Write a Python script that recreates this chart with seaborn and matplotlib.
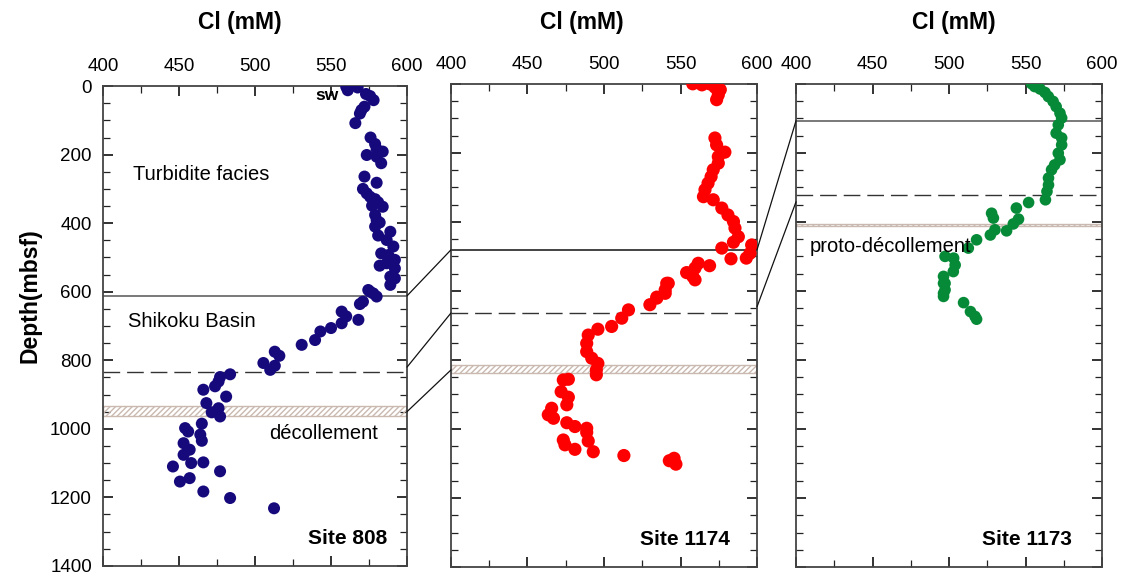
import seaborn as sns
import matplotlib.pyplot as plt
import pandas as pd
from matplotlib.patches import ConnectionPatch
from matplotlib.ticker import MultipleLocator

# Site 808 (Cl mM, depth mbsf)
cl_808 = [560, 561, 567.5, 573, 575.7, 578, 572, 570, 569, 566, 576, 579, 580, 584, 573.5,
          580, 583, 572, 580, 571, 573.5, 575.7, 579, 581, 577, 584, 579, 580, 582, 579,
          589, 581, 586.6, 591, 583, 587.7, 592, 586.6, 582, 592, 589, 592, 589, 574.5,
          577.8, 575.7, 580, 569, 571, 557, 560, 557, 568, 550, 543, 539.5, 530.7, 513,
          516, 505.5, 513, 510, 483.6, 477, 476, 473.7, 466, 481, 468, 476, 471.5, 477,
          465, 454, 456, 464, 465, 453, 457, 453, 458, 466, 446, 477, 457, 450.6, 466,
          483.6, 512.5]
depth_808 = [2, 12, 4, 23, 29, 41, 60, 70, 80, 108, 150, 169, 184, 191, 201, 206, 225, 264,
             282, 300, 313, 323, 330, 339, 349, 352, 376, 391, 398, 410, 425, 436, 449, 468,
             488, 493, 507, 517, 524, 532, 556, 561, 580, 595, 605, 600, 614, 636, 629, 658,
             672, 692, 682, 706, 716, 741, 755, 775, 787, 808, 816, 828, 841, 849, 862, 876,
             886, 906, 925, 940, 952, 964, 985, 998, 1008, 1017, 1035, 1042, 1061, 1076,
             1100, 1098, 1110, 1124, 1144, 1154, 1183, 1202, 1232]

# Site 1174
cl_1174 = [558, 564, 569, 572.5, 576, 574.7, 573.6, 572.5, 573.6, 579, 574.7, 574.7, 571.4,
           570, 568, 566, 565, 571.4, 577, 581, 584.6, 585.6, 587.8, 584.6, 596.5, 577,
           595.4, 593, 583, 569, 561.6, 554, 558, 559.5, 542, 540, 534.5, 559.5, 541, 540,
           534.5, 530, 516, 511.6, 505, 496, 489.7, 488.7, 488.7, 492, 496, 495, 495,
           476.7, 473.4, 472, 476.7, 475.7, 465.8, 463.6, 467, 475.7, 481, 488.7, 488.7,
           473.4, 474.5, 481, 489.7, 493, 513, 542.7, 545.8, 547]
depth_1174 = [0, 3, 0, 10, 17, 32, 46, 157, 177, 198, 211, 230, 249, 269, 288, 307, 327, 336,
              360, 380, 399, 418, 443, 459, 467, 476, 491, 505, 507, 527, 520, 547, 558, 534,
              578, 597, 618, 568, 578, 607, 621, 640, 655, 679, 703, 711, 728, 752, 776, 795,
              810, 829, 843, 856, 858, 892, 908, 930, 940, 959, 969, 982, 993, 998, 1010,
              1032, 1046, 1059, 1035, 1066, 1077, 1092, 1085, 1102]

# Site 1173
cl_1173 = [554, 556, 559.5, 562.7, 564.9, 568, 570, 572.5, 573.6, 571.4, 570, 573.6, 573.6,
           571.4, 572.5, 569, 567, 565, 565, 564, 563, 552, 544, 527.8, 529, 545.4, 542,
           537.6, 530, 527, 518, 512.6, 497.4, 503, 504, 502.8, 496.4, 497.4, 496.4, 496.4,
           497.4, 496.4, 509.5, 514, 517, 518]
depth_1173 = [0, 8, 15, 25, 37, 51, 66, 85, 99, 119, 143, 157, 177, 201, 220, 235, 249, 273,
              293, 312, 336, 344, 360, 375, 389, 392, 406, 426, 423, 438, 452, 476, 500, 505,
              525, 544, 558, 578, 607, 578, 597, 616, 634, 660, 674, 682]

sites = ['Site 808', 'Site 1174', 'Site 1173']
colors = ['#16097c', '#ff0000', '#078a38']
solid_depth = [612, 481, 107]
dashed_depth = [834, 664, 322]
band = [(933, 962), (815, 838), (406, 412)]

sns.set_style('ticks')
plt.rcParams['font.family'] = ['Liberation Sans', 'DejaVu Sans']
plt.rcParams['text.color'] = 'black'
plt.rcParams['xtick.color'] = 'black'
plt.rcParams['ytick.color'] = 'black'
plt.rcParams['hatch.color'] = '#bfaea4'
plt.rcParams['hatch.linewidth'] = 1.0

fig = plt.figure(figsize=(11.21, 5.78), dpi=100)
ax1 = fig.add_axes([0.0919, 0.021, 0.2712, 0.830])
ax2 = fig.add_axes([0.4023, 0.019, 0.2730, 0.836])
ax3 = fig.add_axes([0.7101, 0.019, 0.2730, 0.836])
axes = [ax1, ax2, ax3]

data = [(cl_808, depth_808), (cl_1174, depth_1174), (cl_1173, depth_1173)]
sizes = [75, 90, 70]

for i, ax in enumerate(axes):
    df = pd.DataFrame({'cl': data[i][0], 'depth': data[i][1]})
    sns.scatterplot(data=df, x='cl', y='depth', color=colors[i], s=sizes[i],
                    edgecolor='none', ax=ax, zorder=3)
    ax.set_xlim(400, 600)
    ax.set_ylim(1400, 0)
    ax.set_xlabel('')
    ax.set_ylabel('')
    ax.xaxis.set_major_locator(MultipleLocator(50))
    ax.xaxis.set_minor_locator(MultipleLocator(25))
    ax.yaxis.set_major_locator(MultipleLocator(200))
    ax.yaxis.set_minor_locator(MultipleLocator(50))
    ax.tick_params(which='both', direction='in', top=True, bottom=True, left=True, right=True,
                   labeltop=True, labelbottom=False, labelleft=(i == 0), labelright=False,
                   color='#222222', labelcolor='black', labelsize=13.5, pad=8)
    ax.tick_params(which='major', length=7, width=1.3)
    ax.tick_params(which='minor', length=5, width=0.9)
    for sp in ax.spines.values():
        sp.set_color('#444444')
        sp.set_linewidth(1.3)

    ax.axhline(solid_depth[i], color='#555555' if i != 1 else '#111111', lw=1.1, zorder=2)
    ax.axhline(dashed_depth[i], color='#333333', lw=1.0, dashes=(12, 5), zorder=2)
    ax.axhspan(band[i][0], band[i][1], facecolor='none', edgecolor='#c9b9b0',
               hatch='//////', lw=1.0, zorder=1)
    ax.text(587 if i == 0 else 582 if i == 1 else 580, 1320, sites[i], ha='right',
            va='center', fontsize=15, fontweight='bold', color='black')
    fig.text([240, 582, 954][i] / 1121, 1 - 22 / 578, 'Cl (mM)', ha='center', va='center',
             fontsize=16.5, fontweight='bold', color='black')

ax1.text(540, 27, 'sw', ha='left', va='center', fontsize=12.5, fontweight='bold')
ax1.text(419.7, 257, 'Turbidite facies', ha='left', va='center', fontsize=14.5)
ax1.text(416.4, 687, 'Shikoku Basin', ha='left', va='center', fontsize=14.5)
ax1.text(509, 1015, 'décollement', ha='left', va='center', fontsize=14.5)
ax3.text(409, 472, 'proto-décollement', ha='left', va='center', fontsize=14.5)

fig.text(30 / 1121, 0.488, 'Depth(mbsf)', rotation=90, ha='center', va='center',
         fontsize=16.5, fontweight='bold', color='black')

# connecting lines between panels
links = [(ax1, ax2, 612, 481), (ax1, ax2, 820, 664), (ax1, ax2, 950, 829),
         (ax2, ax3, 481, 107), (ax2, ax3, 646, 342)]
for a, b, d1, d2 in links:
    con = ConnectionPatch(xyA=(600, d1), coordsA=a.transData, xyB=(400, d2),
                          coordsB=b.transData, color='#111111', lw=0.9)
    fig.add_artist(con)

fig.savefig('out.png', dpi=100)
